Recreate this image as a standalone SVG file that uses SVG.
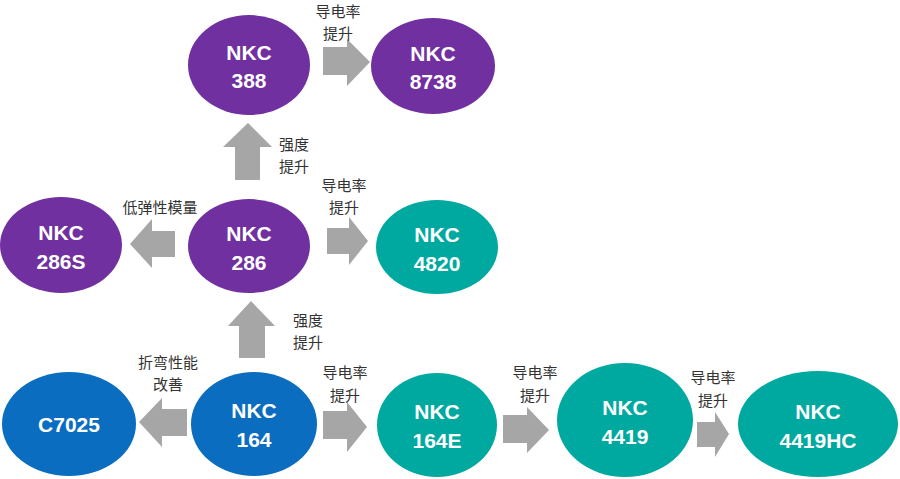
<svg xmlns="http://www.w3.org/2000/svg" width="900" height="479" viewBox="0 0 900 479">
<style>
.p{fill:#7030A0}.b{fill:#0A6DBF}.t{fill:#00A9A0}
.n{font-family:"Liberation Sans",Arial,sans-serif;font-weight:bold;font-size:21px;fill:#fff;text-anchor:middle}
.a{fill:#A6A6A6}
.l{font-family:"Noto Sans CJK SC",sans-serif;font-size:15px;fill:#333;text-anchor:middle}
</style>
<rect width="900" height="479" fill="#fff"/>
<g id="connectors">
<polygon class="a" points="323,47 347,47 347,39 370,62 347,86 347,75 323,75"/>
<polygon class="a" points="235,180 235,147 223,147 248,123 272,147 260,147 260,180"/>
<polygon class="a" points="175,231 152,231 152,219 130,244 152,268 152,257 175,257"/>
<polygon class="a" points="327,228 349,228 349,217 368,241 349,265 349,254 327,254"/>
<polygon class="a" points="239,358 239,326 228,326 251,301 275,326 265,326 265,358"/>
<polygon class="a" points="187,409 162,409 162,398 139,422 162,447 162,436 187,436"/>
<polygon class="a" points="323,411 347,411 347,402 367,427 347,452 347,439 323,439"/>
<polygon class="a" points="503,415 527,415 527,407 549,430 527,453 527,443 503,443"/>
<polygon class="a" points="697,422 715,422 715,412 729,434 715,457 715,447 697,447"/>
<text class="l" x="338" y="17">导电率</text><text class="l" x="338" y="39">提升</text>
<text class="l" x="294" y="150">强度</text><text class="l" x="294" y="172">提升</text>
<text class="l" x="160" y="213">低弹性模量</text>
<text class="l" x="344" y="191">导电率</text><text class="l" x="344" y="213">提升</text>
<text class="l" x="308" y="326">强度</text><text class="l" x="308" y="348">提升</text>
<text class="l" x="168" y="368">折弯性能</text><text class="l" x="168" y="390">改善</text>
<text class="l" x="345" y="378">导电率</text><text class="l" x="345" y="401">提升</text>
<text class="l" x="535" y="378">导电率</text><text class="l" x="535" y="401">提升</text>
<text class="l" x="713" y="383">导电率</text><text class="l" x="713" y="406">提升</text>
</g>
<g id="n388"><ellipse class="p" cx="249" cy="65" rx="61" ry="50"/><text class="n" x="249" y="60">NKC</text><text class="n" x="249" y="88">388</text></g>
<g id="n8738"><ellipse class="p" cx="433" cy="66" rx="62" ry="48"/><text class="n" x="433" y="61">NKC</text><text class="n" x="433" y="89">8738</text></g>
<g id="n286S"><ellipse class="p" cx="61" cy="245" rx="61" ry="48"/><text class="n" x="61" y="240">NKC</text><text class="n" x="61" y="269">286S</text></g>
<g id="n286"><ellipse class="p" cx="249" cy="246" rx="61" ry="47"/><text class="n" x="249" y="241">NKC</text><text class="n" x="249" y="270">286</text></g>
<g id="n4820"><ellipse class="t" cx="437" cy="247" rx="61" ry="47"/><text class="n" x="437" y="242">NKC</text><text class="n" x="437" y="271">4820</text></g>
<g id="nC7025"><ellipse class="b" cx="69" cy="424" rx="67" ry="52"/><text class="n" x="69" y="432">C7025</text></g>
<g id="n164"><ellipse class="b" cx="254" cy="424" rx="63" ry="52"/><text class="n" x="254" y="418">NKC</text><text class="n" x="254" y="447">164</text></g>
<g id="n164E"><ellipse class="t" cx="437" cy="425" rx="60" ry="52"/><text class="n" x="437" y="419">NKC</text><text class="n" x="437" y="448">164E</text></g>
<g id="n4419"><ellipse class="t" cx="625" cy="420" rx="68" ry="57"/><text class="n" x="625" y="415">NKC</text><text class="n" x="625" y="444">4419</text></g>
<g id="n4419HC"><ellipse class="t" cx="818" cy="424" rx="80" ry="53"/><text class="n" x="818" y="419">NKC</text><text class="n" x="818" y="448">4419HC</text></g>
</svg>
